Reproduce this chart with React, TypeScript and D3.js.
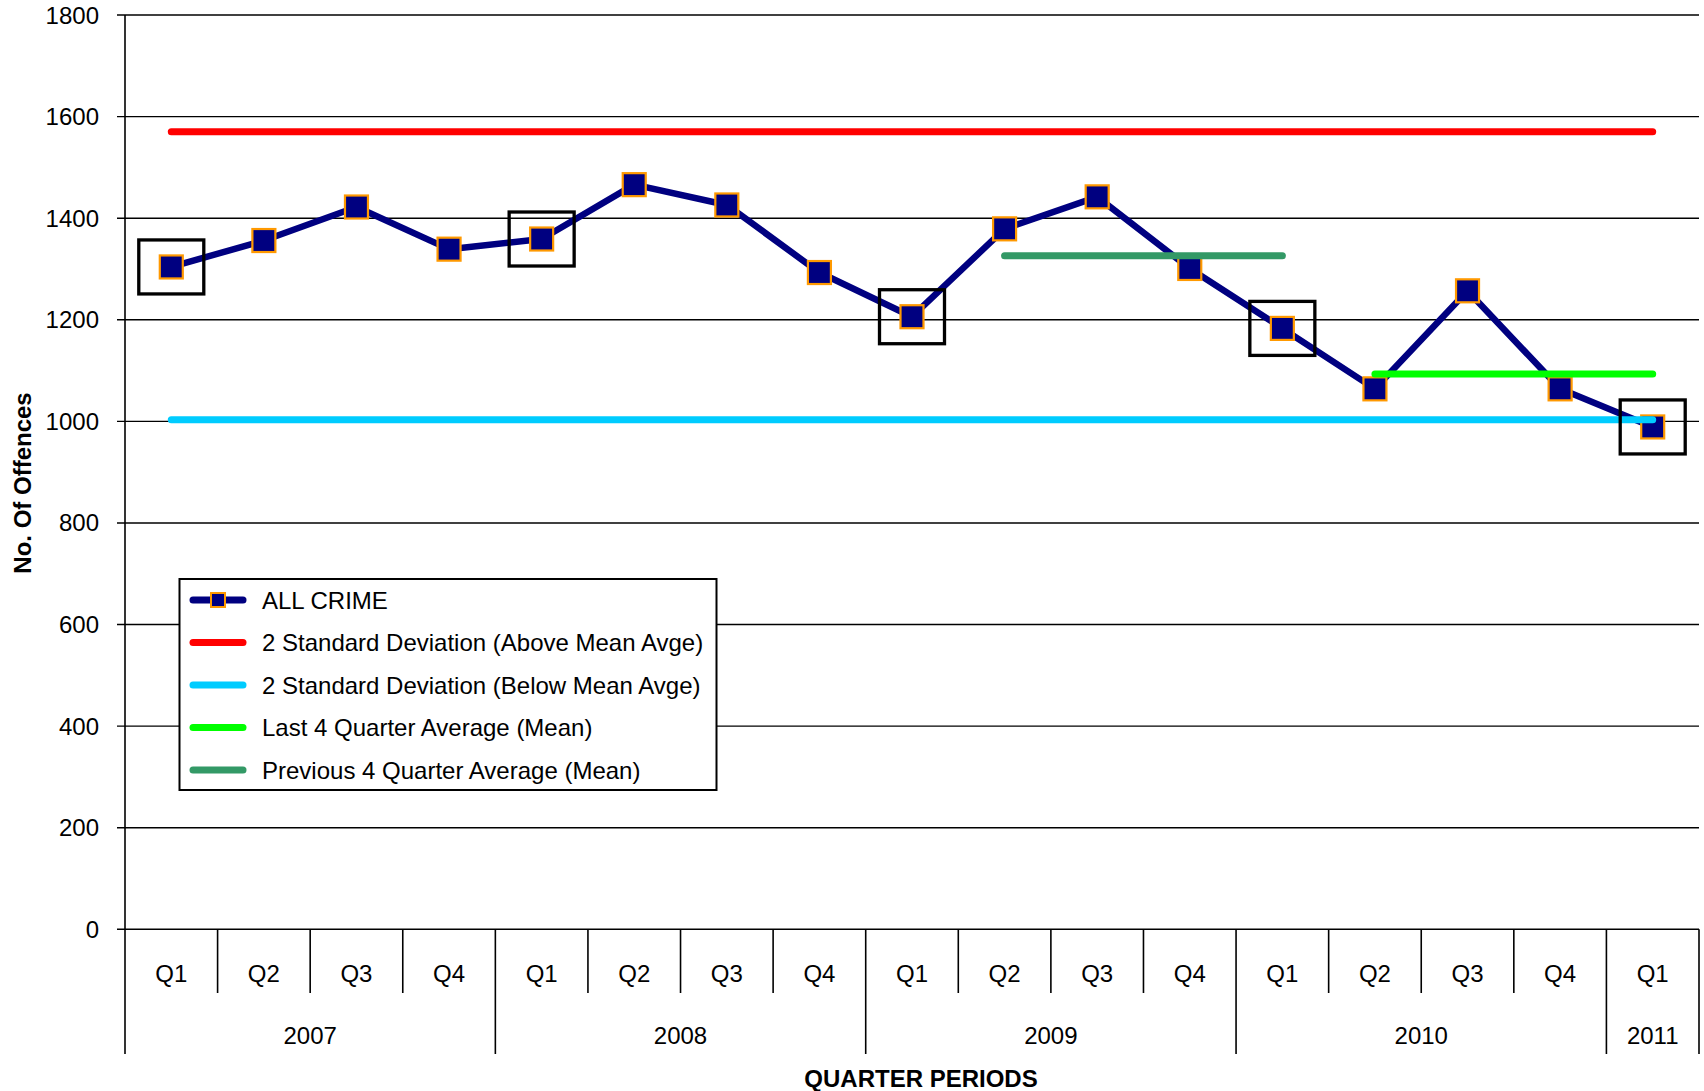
import * as d3 from 'd3';

// quarter categories
const quarters = ['Q1', 'Q2', 'Q3', 'Q4', 'Q1', 'Q2', 'Q3', 'Q4', 'Q1', 'Q2', 'Q3', 'Q4', 'Q1', 'Q2', 'Q3', 'Q4', 'Q1'];
const years = ['2007', '2008', '2009', '2010', '2011'];
const yearSpans = [4, 4, 4, 4, 1];

// series values
const allCrime = [1304, 1356, 1422, 1339, 1359, 1466, 1426, 1293, 1206, 1379, 1442, 1301, 1183, 1064, 1257, 1064, 989];
const upper2SD = 1570;
const lower2SD = 1003;
const last4Avg = 1093;
const prev4Avg = 1326;
// [from, to] index ranges of the reference lines
const upperRange = [0, 16];
const lowerRange = [0, 16];
const last4Range = [13, 16];
const prev4Range = [9, 12];
// Q1 points that get a box
const boxed = [0, 4, 8, 12, 16];

const yTicks = [0, 200, 400, 600, 800, 1000, 1200, 1400, 1600, 1800];

const legendItems = [
  { label: 'ALL CRIME', color: '#000080', marker: true },
  { label: '2 Standard Deviation (Above Mean Avge)', color: '#FF0000' },
  { label: '2 Standard Deviation (Below Mean Avge)', color: '#00CCFF' },
  { label: 'Last 4 Quarter Average (Mean)', color: '#00FF00' },
  { label: 'Previous 4 Quarter Average (Mean)', color: '#339966' },
];

const font = '"Liberation Sans", Arial, sans-serif';

export default function App() {
  const width = 1704;
  const height = 1091;
  const left = 125;
  const right = 1699;
  const top = 15;
  const bottom = 929.3;

  const x = d3.scaleBand<number>().domain(d3.range(quarters.length)).range([left, right]);
  const cx = (i: number) => (x(i) ?? 0) + x.bandwidth() / 2;
  const y = d3.scaleLinear().domain([0, 1800]).range([bottom, top]);

  const line = d3.line<number>().x((_, i) => cx(i)).y((d) => y(d));

  const refLines = [
    { v: upper2SD, r: upperRange, color: '#FF0000' },
    { v: lower2SD, r: lowerRange, color: '#00CCFF' },
    { v: last4Avg, r: last4Range, color: '#00FF00' },
    { v: prev4Avg, r: prev4Range, color: '#339966' },
  ];

  // year group boundaries
  const yearStarts: number[] = [];
  let acc = 0;
  yearSpans.forEach((s) => { yearStarts.push(acc); acc += s; });

  const qBottom = 993;
  const yBottom = 1054;

  const lg = { x: 179.5, y: 579, w: 537, h: 211, row0: 600, step: 42.5 };

  return (
    <svg width={width} height={height} style={{ position: 'absolute', left: 0, top: 0, background: '#fff' }} fontFamily={font}>
      {/* grid lines + y ticks */}
      {yTicks.map((t) => (
        <g key={t}>
          <line x1={117} x2={right} y1={y(t)} y2={y(t)} stroke="#000" strokeWidth={t === 0 ? 1.6 : 1.4} />
          <text x={99} y={y(t)} textAnchor="end" dominantBaseline="central" fontSize={24} fill="#000">{t}</text>
        </g>
      ))}
      {/* left axis */}
      <line x1={left} x2={left} y1={top} y2={yBottom} stroke="#000" strokeWidth={1.6} />

      {/* quarter dividers */}
      {quarters.map((_, i) => i > 0 && !yearStarts.includes(i) ? (
        <line key={'qd' + i} x1={x(i)} x2={x(i)} y1={bottom} y2={qBottom} stroke="#000" strokeWidth={1.6} />
      ) : null)}
      {/* year dividers */}
      {[...yearStarts.slice(1), quarters.length].map((s) => {
        const xx = s === quarters.length ? right : (x(s) as number);
        return <line key={'yd' + s} x1={xx} x2={xx} y1={bottom} y2={yBottom} stroke="#000" strokeWidth={1.6} />;
      })}
      {quarters.map((q, i) => (
        <text key={'q' + i} x={cx(i)} y={973} textAnchor="middle" dominantBaseline="central" fontSize={24}>{q}</text>
      ))}
      {years.map((yr, j) => {
        const s = yearStarts[j];
        const e = s + yearSpans[j];
        const xm = ((x(s) as number) + (e >= quarters.length ? right : (x(e) as number))) / 2;
        return <text key={yr} x={xm} y={1035} textAnchor="middle" dominantBaseline="central" fontSize={24}>{yr}</text>;
      })}

      {/* axis titles */}
      <text x={921} y={1087} textAnchor="middle" fontSize={24} fontWeight="bold">QUARTER PERIODS</text>
      <text transform={`translate(22,483) rotate(-90)`} textAnchor="middle" dominantBaseline="central" fontSize={24} fontWeight="bold">No. Of Offences</text>

      {/* ALL CRIME series */}
      <path d={line(allCrime) ?? ''} fill="none" stroke="#000080" strokeWidth={6.5} strokeLinejoin="round" />
      {allCrime.map((v, i) => (
        <rect key={'m' + i} x={cx(i) - 11.5} y={y(v) - 11.5} width={23} height={23} fill="#000080" stroke="#FF9900" strokeWidth={2.2} />
      ))}

      {/* reference lines */}
      {refLines.map((r, k) => (
        <line key={'r' + k} x1={cx(r.r[0])} x2={cx(r.r[1])} y1={y(r.v)} y2={y(r.v)} stroke={r.color} strokeWidth={7} strokeLinecap="round" />
      ))}

      {/* highlight boxes */}
      {boxed.map((i) => (
        <rect key={'b' + i} x={cx(i) - 32.5} y={y(allCrime[i]) - 27} width={65} height={54} fill="none" stroke="#000" strokeWidth={3.3} />
      ))}

      {/* legend */}
      <rect x={lg.x} y={lg.y} width={lg.w} height={lg.h} fill="#fff" stroke="#000" strokeWidth={2} />
      {legendItems.map((it, k) => {
        const yy = lg.row0 + k * lg.step;
        return (
          <g key={it.label}>
            <line x1={193} x2={243} y1={yy} y2={yy} stroke={it.color} strokeWidth={7} strokeLinecap="round" />
            {it.marker && <rect x={211} y={yy - 7} width={14} height={14} fill="#000080" stroke="#FF9900" strokeWidth={2} />}
            <text x={262} y={yy} dominantBaseline="central" fontSize={24}>{it.label}</text>
          </g>
        );
      })}
    </svg>
  );
}
